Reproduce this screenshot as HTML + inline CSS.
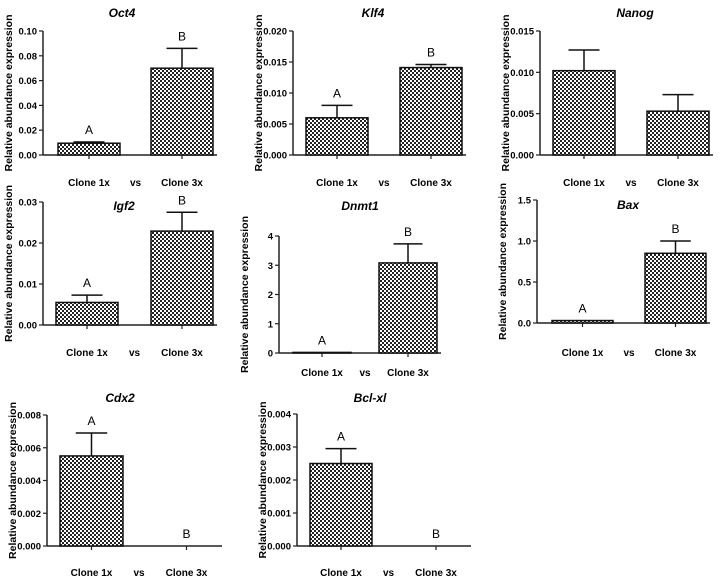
<!DOCTYPE html>
<html><head><meta charset="utf-8">
<style>
html,body{margin:0;padding:0;background:#fff;}
svg{display:block;font-family:"Liberation Sans",Arial,sans-serif;}
</style></head>
<body>
<svg id="chart" width="728" height="580" viewBox="0 0 728 580">
<defs>
<pattern id="chk" width="4" height="4" patternUnits="userSpaceOnUse">
<rect width="4" height="4" fill="#fff"/>
<rect width="2" height="2" fill="#222"/>
<rect x="2" y="2" width="2" height="2" fill="#222"/>
</pattern>
</defs>
</svg>
<script>
const titles = ["Oct4","Klf4","Nanog","Igf2","Dnmt1","Bax","Cdx2","Bcl-xl"];
const categories = ["Clone 1x","Clone 3x"];
const means = [[0.0095,0.070],[0.006,0.0141],[0.0102,0.0053],[0.0055,0.0229],[0.02,3.08],[0.03,0.85],[0.0055,0],[0.0025,0]];
const errors = [[0.001,0.016],[0.002,0.0005],[0.0025,0.002],[0.0018,0.0046],[0,0.65],[0,0.15],[0.0014,0],[0.00045,0]];
const letters = [["A","B"],["A","B"],["",""],["A","B"],["A","B"],["A","B"],["A","B"],["A","B"]];
const yMaxes = [0.10,0.020,0.015,0.03,4,1.5,0.008,0.004];
const yTickLabels = [
 ["0.00","0.02","0.04","0.06","0.08","0.10"],
 ["0.000","0.005","0.010","0.015","0.020"],
 ["0.000","0.005","0.010","0.015"],
 ["0.00","0.01","0.02","0.03"],
 ["0","1","2","3","4"],
 ["0.0","0.5","1.0","1.5"],
 ["0.000","0.002","0.004","0.006","0.008"],
 ["0.000","0.001","0.002","0.003","0.004"]];
// layout: axisX, yTop, yBottom, bar1 x, bar2 x, bar width, title y, label y, title x
const layout = [
 [43,31,155,58,151,62,12,186,122],
 [293,31,155,306,400,62,12,186,373],
 [540,31,155,553,647,62,12,186,635],
 [43,202,325,56,151,62,205,356,124],
 [279,236,353,293,379,58,205,376,360],
 [537,200,323,552,645,61,204,356,628],
 [47,415,546,60,155,63,397,576,120],
 [297,414,546,310,405,62,397,576,370]];
const svg = document.getElementById('chart');
const NS = "http://www.w3.org/2000/svg";
function mk(tag, attrs, parent){const e=document.createElementNS(NS,tag);for(const k in attrs)e.setAttribute(k,attrs[k]);(parent||svg).appendChild(e);return e;}
titles.forEach((t,i)=>{
 const [ax,yt,yb,b1,b2,bw,ty,ly,tx]=layout[i];
 const g=mk('g',{});
 
 
 const ys=v=>yb-(v/yMaxes[i])*(yb-yt);
 const right=b2+bw+4;
 const tt=mk('text',{x:tx,y:ty+5,'text-anchor':'middle','font-size':12,'font-weight':'bold','font-style':'italic'},g);tt.textContent=t;
 
 
 const yl=mk('text',{transform:`translate(${ax-31},${(yt+yb)/2}) rotate(-90)`,'text-anchor':'middle','font-size':10.5,'font-weight':'bold'},g);yl.textContent="Relative abundance expression";
 
 
 const ya=mk('line',{x1:ax,y1:yt,x2:ax,y2:yb,stroke:'#222','stroke-width':1.5},g);
 
 
 const xa=mk('line',{x1:ax,y1:yb,x2:right,y2:yb,stroke:'#222','stroke-width':1.5},g);
 
 
 const n=yTickLabels[i].length;
 yTickLabels[i].forEach((lab,k)=>{
  const v=yMaxes[i]*k/(n-1), y=ys(v);
  mk('line',{x1:ax-4,y1:y,x2:ax,y2:y,stroke:'#222','stroke-width':1.2},g);
  const tl=mk('text',{x:ax-6,y:y+3.5,'text-anchor':'end','font-size':9.5,'font-weight':'bold'},g);tl.textContent=lab;
  
  
 });
 [b1,b2].forEach((bx,j)=>{
  const m=means[i][j], e=errors[i][j], cx=bx+bw/2;
  mk('line',{x1:cx,y1:yb,x2:cx,y2:yb+4,stroke:'#222','stroke-width':1.2},g);
  if(m>0){
   const r=mk('rect',{x:bx,y:ys(m),width:bw,height:yb-ys(m),fill:'url(#chk)',stroke:'#111','stroke-width':1.5},g);
   
   
  }
  if(e>0){
   mk('line',{x1:cx,y1:ys(m),x2:cx,y2:ys(m+e),stroke:'#111','stroke-width':1.5},g);
   mk('line',{x1:cx-bw/4,y1:ys(m+e),x2:cx+bw/4,y2:ys(m+e),stroke:'#111','stroke-width':1.5},g);
  }
  if(letters[i][j]){
   const ltr=mk('text',{x:cx,y:ys(m+e)-8,'text-anchor':'middle','font-size':12},g);ltr.textContent=letters[i][j];
   
   
  }
  const cl=mk('text',{x:cx,y:ly,'text-anchor':'middle','font-size':10,'font-weight':'bold'},g);cl.textContent=categories[j];
  
  
 });
 const vs=mk('text',{x:(b1+bw+b2)/2,y:ly,'text-anchor':'middle','font-size':10,'font-weight':'bold'},g);vs.textContent="vs";
 
 
});
</script>
</body></html>
